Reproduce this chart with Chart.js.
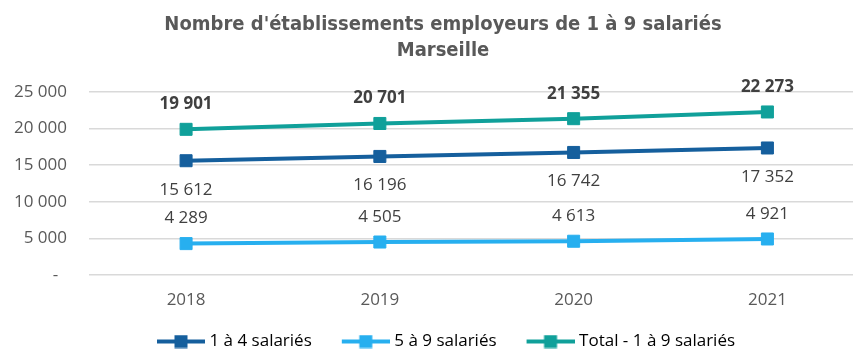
<!DOCTYPE html>
<html>
<head>
<meta charset="utf-8">
<script src="https://cdn.jsdelivr.net/npm/chart.js@4/dist/chart.umd.min.js"></script>
<style>
  html, body { margin: 0; padding: 0; background: #fff; overflow: hidden; }
  #wrap { width: 853px; height: 351px; overflow: hidden; position: relative; }
  canvas { display: block; }
</style>
</head>
<body>
<div id="wrap"><canvas id="chart" width="886" height="360"></canvas></div>
<script>
// Years on the horizontal axis
const years = ['2018', '2019', '2020', '2021'];
// Establishments with 1 to 4 employees
const de1a4 = [15612, 16196, 16742, 17352];
// Establishments with 5 to 9 employees
const de5a9 = [4289, 4505, 4613, 4921];
// Total, 1 to 9 employees
const total1a9 = [19901, 20701, 21355, 22273];
// Value axis ticks
const yTicks = [0, 5000, 10000, 15000, 20000, 25000];

const seriesNames = ['1 à 4 salariés', '5 à 9 salariés', 'Total - 1 à 9 salariés'];
const seriesColors = ['#155F9D', '#27AFEF', '#10A09A'];

const FONT = "'Open Sans', 'Liberation Sans', sans-serif";
const TITLE_FONT = "'Liberation Sans Narrow', 'DejaVu Sans Condensed', 'Liberation Sans', sans-serif";
const FS = 17;

function fmt(v) {
  return String(v).replace(/\B(?=(\d{3})+(?!\d))/g, ' ');
}

// Legend swatch: a short line with a square marker on it
function swatch(color) {
  const c = document.createElement('canvas');
  c.width = 58; c.height = 14;
  const g = c.getContext('2d');
  g.strokeStyle = color;
  g.lineWidth = 4;
  g.beginPath(); g.moveTo(10, 7); g.lineTo(58, 7); g.stroke();
  g.fillStyle = color;
  g.fillRect(27.5, 0.5, 13, 13);
  return c;
}

// Value labels: above the points for two series, below for the other
const valueLabels = {
  id: 'valueLabels',
  afterDatasetsDraw(chart) {
    const ctx = chart.ctx;
    const offsets = [29, -25, -25];
    ctx.save();
    ctx.textAlign = 'center';
    ctx.textBaseline = 'middle';
    ctx.fillStyle = '#404040';
    chart.data.datasets.forEach((ds, i) => {
      const meta = chart.getDatasetMeta(i);
      ctx.font = (i === 2 ? 'bold ' : '') + FS + 'px ' + FONT;
      meta.data.forEach((pt, j) => {
        ctx.fillText(fmt(ds.data[j].y), pt.x, pt.y + offsets[i]);
      });
    });
    ctx.restore();
  }
};

const series = [de1a4, de5a9, total1a9];

new Chart(document.getElementById('chart'), {
  type: 'line',
  data: {
    datasets: series.map((values, i) => ({
      label: seriesNames[i],
      data: values.map((v, j) => ({ x: Number(years[j]), y: v })),
      borderColor: seriesColors[i],
      backgroundColor: seriesColors[i],
      borderWidth: 4,
      pointStyle: 'rect',
      pointRadius: 8.5,
      pointBorderWidth: 1,
      pointHoverRadius: 8.5,
      tension: 0,
      fill: false
    }))
  },
  options: {
    responsive: false,
    animation: false,
    layout: { padding: { top: 12, left: 0, right: 0, bottom: 0 } },
    plugins: {
      title: {
        display: true,
        text: ["Nombre d'établissements employeurs de 1 à 9 salariés", 'Marseille'],
        color: '#595959',
        font: { family: TITLE_FONT, size: 20, weight: 'bold', lineHeight: 1.3 },
        padding: { top: 0, bottom: 28 }
      },
      legend: {
        position: 'bottom',
        labels: {
          usePointStyle: true,
          pointStyleWidth: 50,
          padding: 24,
          color: '#595959',
          font: { family: FONT, size: FS },
          generateLabels(chart) {
            return chart.data.datasets.map((ds, i) => ({
              text: ds.label,
              pointStyle: swatch(seriesColors[i]),
              fillStyle: seriesColors[i],
              strokeStyle: seriesColors[i],
              lineWidth: 0,
              datasetIndex: i,
              hidden: false
            }));
          }
        }
      },
      tooltip: { enabled: false }
    },
    scales: {
      x: {
        type: 'linear',
        min: 2017.499,
        max: 2021.563,
        afterBuildTicks(scale) { scale.ticks = years.map(y => ({ value: Number(y) })); },
        grid: { display: false, drawTicks: false },
        border: { display: false },
        ticks: {
          color: '#595959',
          font: { family: FONT, size: FS },
          padding: 15,
          callback: v => String(v)
        },
        afterFit(scale) {
          scale.height = 34;
          scale.paddingLeft = 0;
          scale.paddingRight = 0;
        }
      },
      y: {
        min: 0,
        max: 25000,
        afterBuildTicks(scale) { scale.ticks = yTicks.map(v => ({ value: v })); },
        grid: { color: '#d9d9d9', lineWidth: 1.5, drawTicks: false },
        border: { display: false },
        ticks: {
          color: '#595959',
          font: { family: FONT, size: FS },
          padding: 22,
          callback: v => (v === 0 ? '-  ' : fmt(v))
        },
        afterFit(scale) { scale.width = 89; }
      }
    }
  },
  plugins: [valueLabels]
});
</script>
</body>
</html>
